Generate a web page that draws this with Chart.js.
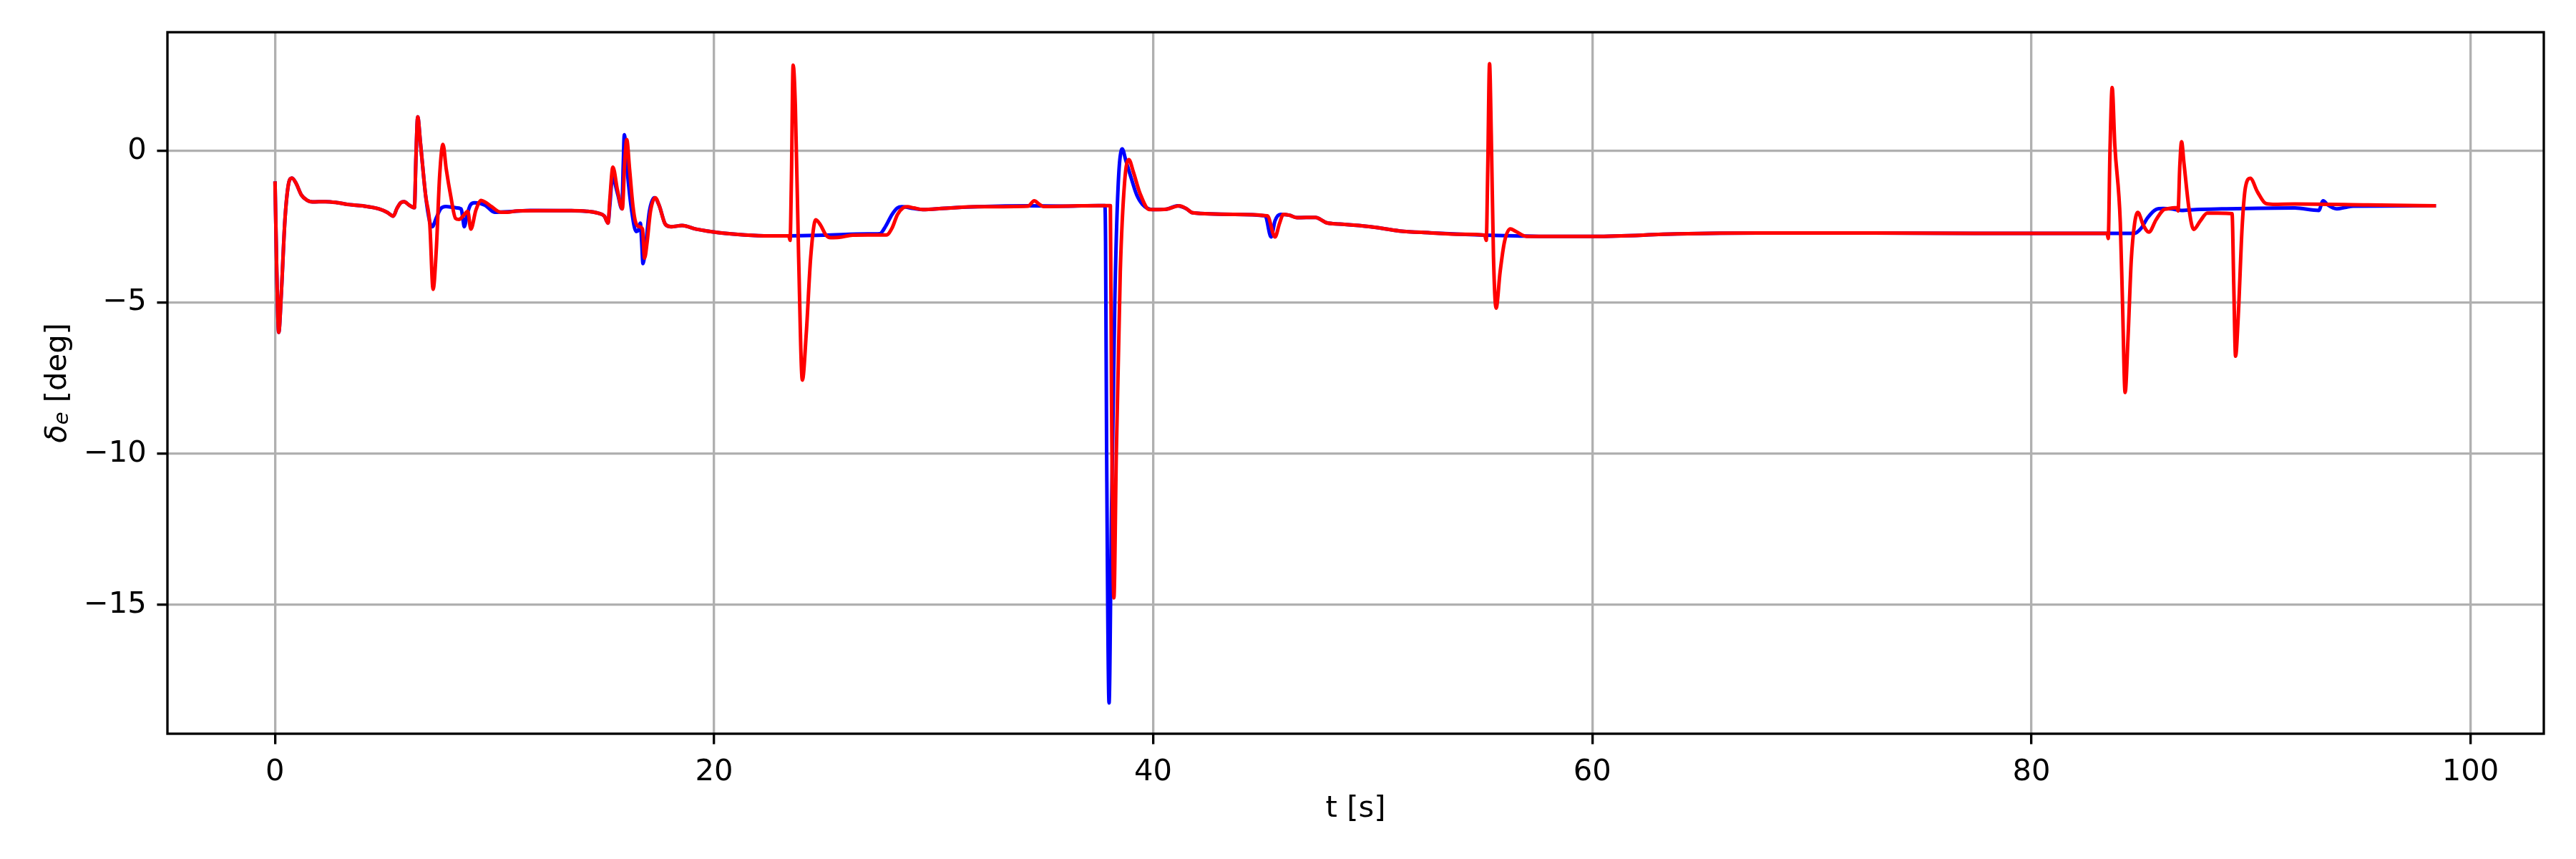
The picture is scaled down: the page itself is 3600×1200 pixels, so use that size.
<!DOCTYPE html>
<html>
<head>
<meta charset="utf-8">
<script src="https://cdn.jsdelivr.net/npm/chart.js@4.4.1/dist/chart.umd.min.js"></script>
<style>html,body{margin:0;padding:0;background:#fff}canvas{display:block}</style>
</head>
<body>
<canvas id="c" width="3600" height="1200"></canvas>
<script>
// ---- data ----
const xTickValues = [0, 20, 40, 60, 80, 100];
const yTickValues = [-15, -10, -5, 0];
const xLabel = "t [s]";
const yLabelParts = ["\u03B4", "e", " [deg]"];

const tBlue = [0.00,0.08,0.17,0.28,0.45,0.60,0.77,0.95,1.20,1.45,1.70,2.30,2.80,3.40,4.00,4.74,5.10,5.39,5.55,5.72,5.88,6.10,6.35,6.42,6.50,6.62,6.86,7.05,7.16,7.35,7.55,7.78,8.21,8.48,8.55,8.62,8.75,8.90,9.09,9.57,10.00,10.87,11.63,13.50,14.20,14.70,15.00,15.17,15.25,15.37,15.60,15.80,15.86,15.91,16.05,16.25,16.45,16.55,16.64,16.70,16.76,16.90,17.05,17.28,17.50,17.78,18.05,18.54,19.19,20.27,21.40,22.50,23.40,25.00,27.00,27.55,27.80,28.10,28.35,28.55,29.10,29.50,30.50,32.00,34.40,36.00,37.50,37.80,37.83,37.88,37.99,38.10,38.25,38.40,38.59,38.75,39.00,39.25,39.51,39.95,40.60,41.10,41.50,41.80,43.69,45.10,45.37,45.55,45.80,46.20,46.55,47.40,47.60,47.90,48.49,49.90,51.23,52.60,54.00,55.10,56.50,58.00,60.12,63.86,67.60,72.58,77.57,83.45,84.68,85.00,85.30,85.68,86.00,86.35,86.84,87.50,88.67,92.00,93.09,93.29,93.50,93.91,94.30,94.66,98.43];
const deBlue = [-1.00,-4.0,-5.99,-4.8,-2.3,-1.15,-0.89,-1.05,-1.45,-1.62,-1.68,-1.67,-1.70,-1.77,-1.81,-1.91,-2.02,-2.15,-1.90,-1.71,-1.67,-1.78,-1.87,-0.2,1.13,0.3,-1.47,-2.35,-2.50,-2.2,-1.90,-1.83,-1.87,-1.91,-2.2,-2.50,-2.1,-1.78,-1.71,-1.79,-2.02,-1.99,-1.96,-1.97,-1.99,-2.05,-2.15,-2.38,-1.8,-0.87,-1.4,-1.91,-0.5,0.54,-0.7,-2.0,-2.66,-2.62,-2.38,-3.0,-3.72,-3.0,-2.0,-1.54,-1.8,-2.42,-2.50,-2.46,-2.58,-2.70,-2.77,-2.80,-2.80,-2.78,-2.74,-2.73,-2.5,-2.1,-1.88,-1.84,-1.90,-1.93,-1.89,-1.84,-1.81,-1.82,-1.80,-1.80,-3.0,-10.0,-18.24,-12.0,-5.0,-1.2,0.07,-0.3,-0.9,-1.45,-1.76,-1.93,-1.92,-1.81,-1.90,-2.04,-2.09,-2.14,-2.84,-2.3,-2.09,-2.12,-2.20,-2.19,-2.25,-2.37,-2.41,-2.50,-2.64,-2.70,-2.75,-2.78,-2.80,-2.82,-2.82,-2.74,-2.71,-2.71,-2.72,-2.72,-2.72,-2.55,-2.2,-1.93,-1.90,-1.91,-1.96,-1.93,-1.91,-1.88,-1.96,-1.64,-1.78,-1.91,-1.86,-1.82,-1.81];

const tRed = [0.00,0.08,0.17,0.28,0.45,0.60,0.77,0.95,1.20,1.45,1.70,2.30,2.80,3.40,4.00,4.74,5.10,5.39,5.55,5.72,5.88,6.10,6.35,6.42,6.50,6.62,6.86,7.05,7.20,7.35,7.50,7.65,7.80,8.00,8.22,8.38,8.60,8.78,8.92,9.15,9.39,9.60,9.85,10.29,10.60,11.00,12.00,13.50,14.20,14.70,15.00,15.17,15.25,15.39,15.60,15.82,15.92,16.02,16.15,16.30,16.42,16.60,16.74,16.83,16.95,17.10,17.32,17.50,17.78,18.05,18.54,19.19,20.27,21.40,22.50,23.40,23.46,23.52,23.60,23.70,23.85,24.02,24.20,24.40,24.63,24.85,25.10,25.30,25.70,26.30,27.00,27.85,28.10,28.35,28.60,28.80,29.10,29.50,30.50,32.00,34.30,34.58,34.80,35.00,36.00,37.50,38.02,38.05,38.10,38.21,38.32,38.50,38.70,38.89,39.10,39.40,39.82,40.20,40.60,41.19,41.50,41.80,43.69,45.20,45.55,45.75,45.93,46.20,46.55,47.40,47.60,47.90,48.49,49.90,51.23,52.60,54.00,55.10,55.17,55.24,55.32,55.40,55.50,55.62,55.80,56.00,56.27,56.50,57.00,58.00,60.12,63.86,67.60,72.58,77.57,83.45,83.50,83.58,83.68,83.80,84.05,84.15,84.27,84.40,84.55,84.70,84.85,85.10,85.35,85.68,86.00,86.18,86.64,86.68,86.76,86.84,86.95,87.18,87.39,87.70,88.01,88.50,89.14,89.22,89.30,89.42,89.60,89.75,89.97,90.30,90.67,91.00,92.00,95.32,98.43];
const deRed = [-1.00,-4.0,-5.99,-4.8,-2.3,-1.15,-0.89,-1.05,-1.45,-1.62,-1.68,-1.67,-1.70,-1.77,-1.81,-1.91,-2.02,-2.15,-1.90,-1.71,-1.67,-1.78,-1.87,-0.2,1.13,0.3,-1.47,-2.42,-4.57,-3.2,-0.8,0.22,-0.6,-1.47,-2.22,-2.26,-2.12,-1.99,-2.58,-1.95,-1.63,-1.70,-1.83,-2.02,-2.02,-1.98,-1.97,-1.97,-1.99,-2.05,-2.15,-2.38,-1.6,-0.53,-1.3,-1.91,-0.5,0.38,-0.6,-1.8,-2.34,-2.5,-2.58,-3.54,-3.0,-2.0,-1.54,-1.8,-2.42,-2.50,-2.46,-2.58,-2.70,-2.77,-2.80,-2.80,-2.95,-1.0,2.84,1.5,-3.5,-7.57,-6.0,-3.5,-2.27,-2.45,-2.78,-2.86,-2.85,-2.78,-2.77,-2.77,-2.55,-2.1,-1.88,-1.84,-1.88,-1.93,-1.89,-1.84,-1.82,-1.64,-1.75,-1.83,-1.82,-1.80,-1.80,-1.80,-8.0,-14.77,-10.0,-4.0,-1.0,-0.28,-0.7,-1.4,-1.93,-1.93,-1.92,-1.81,-1.90,-2.04,-2.09,-2.14,-2.84,-2.4,-2.09,-2.12,-2.20,-2.19,-2.25,-2.37,-2.41,-2.50,-2.64,-2.70,-2.75,-2.78,-2.95,-0.5,2.89,0.5,-3.5,-5.19,-4.0,-3.0,-2.57,-2.65,-2.82,-2.82,-2.82,-2.74,-2.71,-2.71,-2.72,-2.72,-2.89,0.0,2.10,0.2,-2.36,-5.0,-7.98,-6.2,-3.6,-2.4,-2.03,-2.45,-2.68,-2.27,-1.95,-1.91,-1.87,-1.98,-0.5,0.31,-0.4,-1.91,-2.59,-2.3,-2.05,-2.05,-2.07,-4.5,-6.78,-5.5,-2.5,-1.2,-0.90,-1.35,-1.73,-1.76,-1.75,-1.78,-1.81];

// ---- styling ----
const PT = 300 / 72;
const FS = 10 * PT;
const LW = 5;
const FAMILY = "'DejaVu Sans', 'Liberation Sans', sans-serif";
function pts(ts, vs) { return ts.map((t, i) => ({ x: t, y: vs[i] })); }
function fmt(v) { return v < 0 ? "\u2212" + Math.abs(v) : String(v); }

Chart.defaults.font.family = FAMILY;
Chart.defaults.font.size = FS;
Chart.defaults.color = '#000';

const framePlugin = {
  id: 'frame',
  afterDatasetsDraw(chart) {
    const { ctx, chartArea: a } = chart;
    ctx.save();
    ctx.strokeStyle = '#000';
    ctx.lineWidth = 0.8 * PT;
    ctx.lineJoin = 'miter';
    ctx.strokeRect(a.left, a.top, a.right - a.left, a.bottom - a.top);
    ctx.restore();
  }
};

const yLabelPlugin = {
  id: 'ylabel',
  afterDraw(chart) {
    const { ctx, chartArea: a } = chart;
    const f1 = `italic ${FS}px ${FAMILY}`;
    const f2 = `italic ${FS * 0.7}px ${FAMILY}`;
    const f3 = `${FS}px ${FAMILY}`;
    ctx.save();
    ctx.font = f1; const w1 = ctx.measureText(yLabelParts[0]).width;
    ctx.font = f2; const w2 = ctx.measureText(yLabelParts[1]).width;
    ctx.font = f3; const w3 = ctx.measureText(yLabelParts[2]).width;
    ctx.translate(92, (a.top + a.bottom) / 2);
    ctx.rotate(-Math.PI / 2);
    ctx.fillStyle = '#000';
    ctx.textBaseline = 'alphabetic';
    ctx.textAlign = 'left';
    let x = -(w1 + w2 + w3) / 2;
    ctx.font = f1; ctx.fillText(yLabelParts[0], x, 0); x += w1;
    ctx.font = f2; ctx.fillText(yLabelParts[1], x, 3); x += w2;
    ctx.font = f3; ctx.fillText(yLabelParts[2], x, 0);
    ctx.restore();
  }
};

const gridOpts = {
  color: '#b0b0b0',
  lineWidth: 0.8 * PT,
  tickColor: '#000',
  tickWidth: 0.8 * PT,
  tickLength: 3.5 * PT,
  drawTicks: true
};

new Chart(document.getElementById('c'), {
  type: 'line',
  data: {
    datasets: [
      { label: 'red', data: pts(tRed, deRed), borderColor: '#ff0000', borderWidth: LW,
        pointRadius: 0, fill: false, cubicInterpolationMode: 'monotone', order: 0 },
      { label: 'blue', data: pts(tBlue, deBlue), borderColor: '#0000ff', borderWidth: LW,
        pointRadius: 0, fill: false, cubicInterpolationMode: 'monotone', order: 1 }
    ]
  },
  options: {
    responsive: false,
    animation: false,
    devicePixelRatio: 1,
    layout: { padding: { left: 0, right: 45, top: 45, bottom: 0 } },
    plugins: { legend: { display: false }, tooltip: { enabled: false } },
    elements: { line: { borderJoinStyle: 'round', borderCapStyle: 'butt' } },
    scales: {
      x: {
        type: 'linear',
        min: -4.9, max: 103.34,
        afterBuildTicks: s => { s.ticks = xTickValues.map(v => ({ value: v })); },
        afterFit: s => { s.height = 175; },
        grid: gridOpts,
        border: { display: false },
        ticks: { autoSkip: false, maxRotation: 0, minRotation: 0, padding: 3.5 * PT, color: '#000', callback: v => fmt(v) },
        title: { display: true, text: xLabel, color: '#000', padding: { top: 0, bottom: 45 }, font: { size: FS } }
      },
      y: {
        type: 'linear',
        min: -19.26, max: 3.93,
        afterBuildTicks: s => { s.ticks = yTickValues.map(v => ({ value: v })); },
        afterFit: s => { s.width = 234; },
        grid: gridOpts,
        border: { display: false },
        ticks: { autoSkip: false, padding: 3.5 * PT, color: '#000', callback: v => fmt(v) }
      }
    }
  },
  plugins: [framePlugin, yLabelPlugin]
});
</script>
</body>
</html>
